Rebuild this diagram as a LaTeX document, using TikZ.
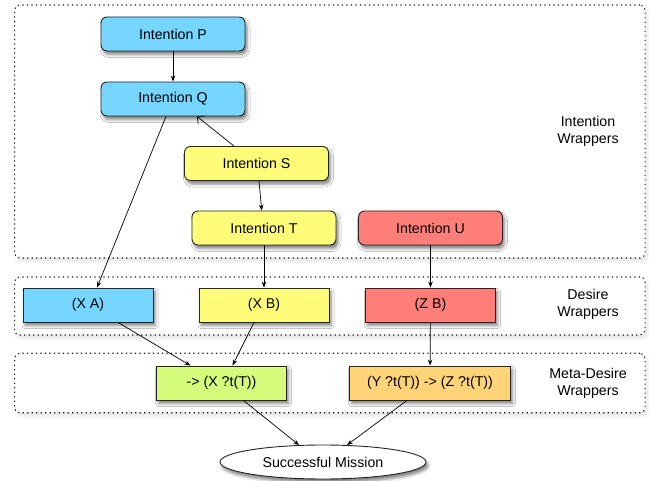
\documentclass[tikz,border=0pt]{standalone}
\usepackage{fontspec}
\setmainfont{Liberation Sans}
\usetikzlibrary{arrows.meta,shapes.geometric,shadows.blur}
\definecolor{sky}{HTML}{76D6FF}
\definecolor{banana}{HTML}{FFFC79}
\definecolor{salmon}{HTML}{FF7E79}
\definecolor{honeydew}{HTML}{D4FB79}
\definecolor{cantaloupe}{HTML}{FFD479}
\tikzset{
  lbl/.style={font=\fontsize{14.2}{17}\selectfont},
  shadowed/.style={blur shadow={shadow xshift=2pt,shadow yshift=-3.5pt,shadow blur radius=3pt,shadow opacity=50}},
  intent/.style={lbl,shadowed,draw=black!85,line width=0.9pt,rounded corners=6pt,
    minimum width=144pt,minimum height=34pt,inner sep=0pt},
  desire/.style={lbl,shadowed,draw=black!85,line width=0.9pt,
    minimum width=130pt,minimum height=34pt,inner sep=0pt},
  groupbox/.style={draw=black!90,line width=1.1pt,dash pattern=on 1.2pt off 3.3pt,
    rounded corners=5pt,fill=white,inner sep=0pt,
    blur shadow={shadow xshift=2pt,shadow yshift=-3pt,shadow blur radius=4pt,shadow opacity=12}},
  caption/.style={lbl,align=center},
  flow/.style={line width=0.7pt,-{Stealth[length=6pt,width=4.5pt]}},
  backflow/.style={line width=0.7pt,-{Straight Barb[length=5pt,width=10pt]}},
}
\begin{document}
\begin{tikzpicture}[x=1pt,y=-1pt]
\useasboundingbox (0,0) rectangle (649,481);

% dotted wrapper regions
\node[groupbox,minimum width=630.5pt,minimum height=253pt] (gint) at (329.8,131.5) {};
\node[groupbox,minimum width=630.5pt,minimum height=58pt] (gdes) at (329.8,306) {};
\node[groupbox,minimum width=630.5pt,minimum height=59.5pt] (gmeta) at (329.8,383) {};

\node[caption] (cint) at (588,131) {Intention\\Wrappers};
\node[caption] (cdes) at (588,304.5) {Desire\\Wrappers};
\node[caption] (cmeta) at (588,383) {Meta-Desire\\Wrappers};

% intentions
\node[intent,fill=sky] (P) at (173,34) {Intention P};
\node[intent,fill=sky] (Q) at (173,99) {Intention Q};
\node[intent,fill=banana] (S) at (256.5,163.5) {Intention S};
\node[intent,fill=banana] (T) at (264,228) {Intention T};
\node[intent,fill=salmon] (U) at (430.5,228) {Intention U};

% desires
\node[desire,fill=sky] (XA) at (88,305) {(X A)};
\node[desire,fill=banana] (XB) at (264,305) {(X B)};
\node[desire,fill=salmon] (ZB) at (430.5,305) {(Z B)};

% meta-desires
\node[desire,fill=honeydew] (M1) at (221.5,383) {-> (X ?t(T))};
\node[desire,fill=cantaloupe,minimum width=161pt] (M2) at (430,383) {(Y ?t(T)) -> (Z ?t(T))};

% goal
\node[ellipse,lbl,shadowed,draw=black!85,line width=0.9pt,fill=white,
  minimum width=206pt,minimum height=34pt,inner sep=0pt] (E) at (323,462) {Successful Mission};

% connectors
\draw[flow] (P) -- (Q);
\draw[backflow] ([xshift=-22.5pt]S.north) -- ([xshift=24pt]Q.south);
\draw[flow] ([xshift=2.5pt]S.south) -- ([xshift=-2.3pt]T.north);
\draw[flow] ([xshift=-7pt]Q.south) -- ([xshift=9pt]XA.north);
\draw[flow] (T) -- (XB);
\draw[flow] (U) -- (ZB);
\draw[flow] ([xshift=30pt]XA.south) -- ([xshift=-31pt]M1.north);
\draw[flow] ([xshift=-10pt]XB.south) -- ([xshift=11pt]M1.north);
\draw[flow] (ZB) -- (M2);
\draw[flow] ([xshift=22pt]M1.south) -- ([xshift=-24pt,yshift=-0.5pt]E.north);
\draw[flow] ([xshift=-23pt]M2.south) -- ([xshift=24pt,yshift=-0.5pt]E.north);
\end{tikzpicture}
\end{document}
